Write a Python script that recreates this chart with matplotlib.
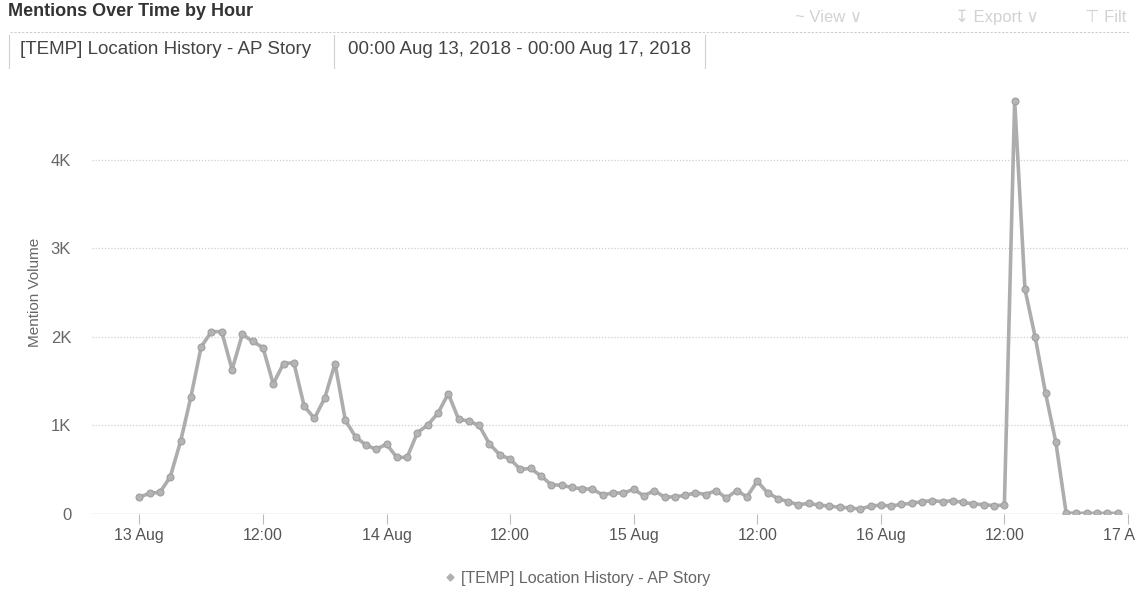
import matplotlib.pyplot as plt
from matplotlib.lines import Line2D

plt.rcParams['font.family'] = ['Liberation Sans', 'DejaVu Sans']

# hourly mention counts, 00:00 Aug 13 through 23:00 Aug 16
hours = list(range(96))
mentions = [
    190, 235, 245, 420, 820, 1320, 1890, 2060, 2060, 1630, 2030, 1950,
    1880, 1470, 1700, 1710, 1220, 1080, 1310, 1700, 1060, 870, 780, 730,
    790, 640, 640, 920, 1005, 1140, 1360, 1070, 1050, 1000, 790, 670,
    620, 505, 515, 430, 330, 325, 300, 285, 280, 215, 240, 235,
    280, 205, 265, 190, 195, 210, 240, 220, 265, 180, 265, 195,
    370, 240, 175, 140, 105, 120, 100, 90, 75, 70, 55, 90,
    100, 90, 110, 120, 140, 150, 140, 150, 130, 115, 105, 95,
    100, 4670, 2540, 1995, 1364, 810, 10, 8, 8, 8, 8, 8,
]

tick_hours = [0, 12, 24, 36, 48, 60, 72, 84, 96]
tick_labels = ['13 Aug', '12:00', '14 Aug', '12:00', '15 Aug', '12:00',
               '16 Aug', '12:00', '17 Aug']
y_ticks = [0, 1000, 2000, 3000, 4000]
y_labels = ['0', '1K', '2K', '3K', '4K']

series_name = '[TEMP] Location History - AP Story'
date_range = '00:00 Aug 13, 2018 - 00:00 Aug 17, 2018'

W, H = 1136, 597
fig = plt.figure(figsize=(W / 100, H / 100), dpi=100)
ax = fig.add_axes([92 / W, 1 - 514 / H, (1130 - 92) / W, (514 - 93.6) / H])

ax.plot(hours, mentions, color='#adadad', lw=2.6, marker='o', ms=5,
        mfc='#b4b4b4', mec='#a0a0a0', mew=0.8, zorder=3)

ax.set_xlim(-4.6, 96.2)
ax.set_ylim(0, 4750)

ax.set_yticks(y_ticks)
ax.set_yticklabels(y_labels)
ax.set_xticks(tick_hours)
ax.set_xticklabels(tick_labels)

for s in ax.spines.values():
    s.set_visible(False)

ax.tick_params(axis='y', length=0, pad=15, labelsize=12, labelcolor='#666666')
ax.tick_params(axis='x', length=7, width=0.8, color='#bbbbbb', pad=3,
               labelsize=11.5, labelcolor='#555555')

for v in y_ticks[1:]:
    ax.axhline(v, color='#cfcfcf', lw=0.9, ls=(0, (1, 1.5)), zorder=1)
ax.axhline(0, color='#c8c8c8', lw=1.0, zorder=1)

fig.text(35 / W, 1 - 292 / H, 'Mention Volume', rotation=90, ha='center',
         va='center', fontsize=11, color='#666666')

# header: title, tab strip and toolbar
fig.text(8 / W, 1 - 12 / H, 'Mentions Over Time by Hour', ha='left',
         va='center', fontsize=13, fontweight='bold', color='#333333')
fig.add_artist(Line2D([10 / W, 1130 / W], [1 - 32 / H, 1 - 32 / H],
                      color='#cccccc', lw=0.8, ls=(0, (2, 1.5))))
for xv in [9, 334, 705]:
    fig.add_artist(Line2D([xv / W, xv / W], [1 - 35 / H, 1 - 68 / H],
                          color='#d0d0d0', lw=0.8))
fig.text(20 / W, 1 - 49 / H, series_name, ha='left', va='center',
         fontsize=13.5, color='#444444')
fig.text(348 / W, 1 - 49 / H, date_range, ha='left', va='center',
         fontsize=13.5, color='#444444')
for xt, txt in [(795, '~ View \u2228'), (955, '\u21a7 Export \u2228'),
                (1085, '\u22a4 Filt')]:
    fig.text(xt / W, 1 - 17 / H, txt, ha='left', va='center', fontsize=12,
             color='#d2d2d2')

handle = Line2D([], [], color='#b0b0b0', marker='D', ms=3.5, ls='none')
fig.legend([handle], [series_name], loc='center', frameon=False,
           bbox_to_anchor=(577 / W, 1 - 578 / H), fontsize=11.5,
           labelcolor='#666666', handletextpad=0.3, handlelength=0.8)

fig.savefig('out.png', dpi=100)
